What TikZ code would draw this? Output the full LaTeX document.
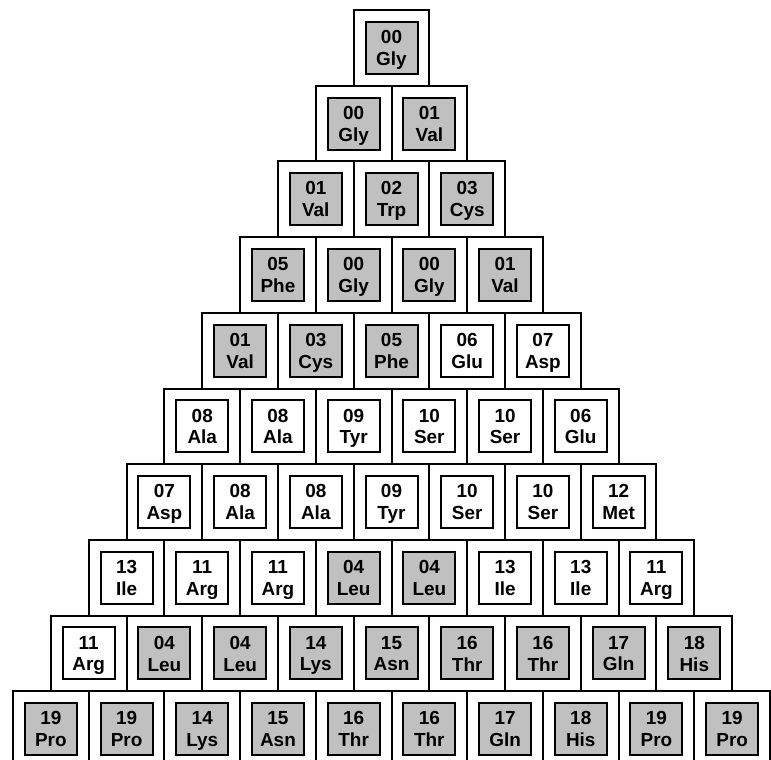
\documentclass[tikz,border=0pt]{standalone}
\usepackage{fontspec}
\setmainfont{Liberation Sans}
\definecolor{hitgray}{RGB}{192,192,192}

\begin{document}
\begin{tikzpicture}[x=1bp,y=-1bp,
  cellbox/.style={draw,line width=2bp,minimum size=75.7bp,inner sep=0pt},
  resbox/.style={draw,line width=2bp,minimum size=52bp,inner sep=0pt,align=center,
    font=\fontsize{19}{22}\selectfont\bfseries},
  g/.style={fill=hitgray},w/.style={fill=white}]
  % page 771 x 760, bottom row runs off the lower edge
  \useasboundingbox (0,0) rectangle (771,760);
  \clip (0,0) rectangle (771,760);
  \def\P{75.7}\def\MID{391.5}\def\TOP{10}
  % row r, cell c: x = MID+(c-(r+1)/2)*P, y = TOP+(r-1/2)*P
  \foreach \r/\cells in {
    1/{00/Gly/g},
    2/{00/Gly/g,01/Val/g},
    3/{01/Val/g,02/Trp/g,03/Cys/g},
    4/{05/Phe/g,00/Gly/g,00/Gly/g,01/Val/g},
    5/{01/Val/g,03/Cys/g,05/Phe/g,06/Glu/w,07/Asp/w},
    6/{08/Ala/w,08/Ala/w,09/Tyr/w,10/Ser/w,10/Ser/w,06/Glu/w},
    7/{07/Asp/w,08/Ala/w,08/Ala/w,09/Tyr/w,10/Ser/w,10/Ser/w,12/Met/w},
    8/{13/Ile/w,11/Arg/w,11/Arg/w,04/Leu/g,04/Leu/g,13/Ile/w,13/Ile/w,11/Arg/w},
    9/{11/Arg/w,04/Leu/g,04/Leu/g,14/Lys/g,15/Asn/g,16/Thr/g,16/Thr/g,17/Gln/g,18/His/g},
    10/{19/Pro/g,19/Pro/g,14/Lys/g,15/Asn/g,16/Thr/g,16/Thr/g,17/Gln/g,18/His/g,19/Pro/g,19/Pro/g}}{
    \foreach \n/\a/\s [count=\c] in \cells{
      \node[cellbox] (cell-\r-\c) at ({\MID+(\c-(\r+1)/2)*\P},{\TOP+(\r-0.5)*\P}) {};
      \node[resbox,\s] (res-\r-\c) at (cell-\r-\c) {\n\\\smash{\a}};}}
\end{tikzpicture}
\end{document}
